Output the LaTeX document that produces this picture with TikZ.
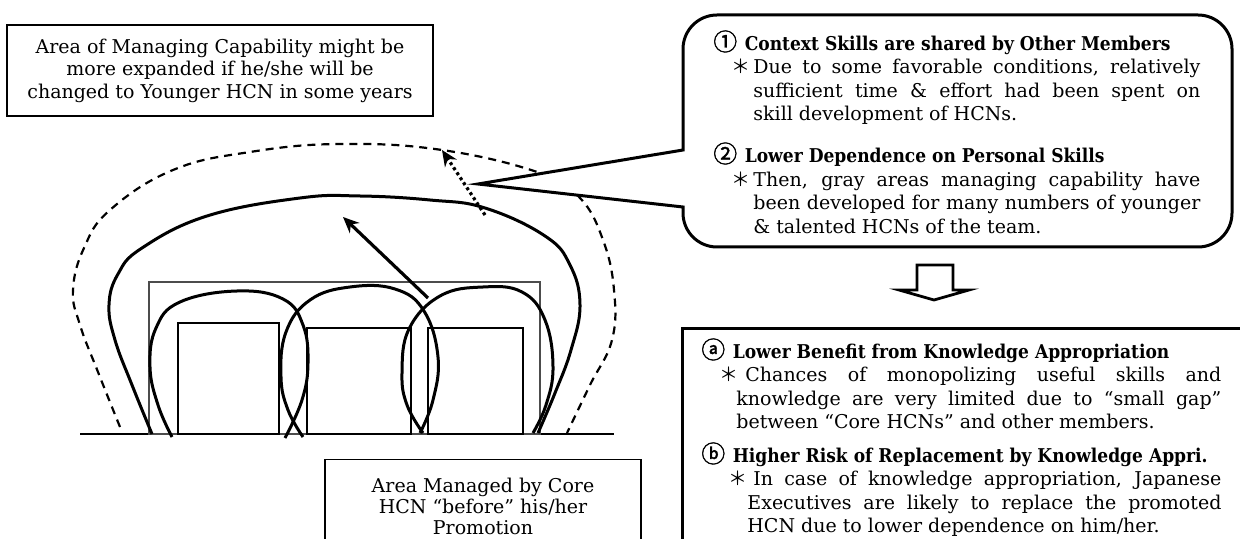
\documentclass[tikz,border=0pt]{standalone}
\usepackage{fontspec}
\setmainfont{DejaVu Serif}
\newfontfamily\symfont{Noto Sans CJK JP}
\newfontfamily\circfont{Noto Sans CJK JP}[Scale=1.25, FakeBold=1.5]
\newfontfamily\headfont{DejaVu Serif}[FakeStretch=0.9]
\usetikzlibrary{arrows.meta}

\newcommand{\circnum}[1]{{\circfont #1}}
\newcommand{\notehead}[2]{\noindent{\circnum{#1}\hspace{0.4em}\headfont\bfseries #2}\par}
\newcommand{\notebody}[3]{{\leftskip=#1\noindent\hspace*{-#2}\makebox[#2][l]{\symfont ＊}#3\par}}

\begin{document}
\begin{tikzpicture}[x=0.5pt, y=-0.5pt,
    solidloop/.style={line width=1.5pt, line join=round},
    dashloop/.style={line width=1.1pt, dash pattern=on 4pt off 3pt},
    unitbox/.style={line width=1.1pt},
    teambox/.style={line width=0.8pt, draw=black!70},
    liftarrow/.style={line width=1.6pt, -{Stealth[length=8pt, width=7pt]}},
    reacharrow/.style={line width=1.6pt, dash pattern=on 1.5pt off 1.5pt, -{Stealth[length=8pt, width=7pt]}},
    infobox/.style={draw, line width=0.7pt, align=center, inner sep=0pt},
    callout/.style={draw, fill=white, line width=1.5pt, line join=miter},
    notetext/.style={anchor=north west, inner sep=0pt, align=justify, font=\fontsize{9.5}{11.75}\selectfont},
    gobox/.style={draw, line width=1.5pt},
    downarrow/.style={draw, fill=white, line width=1.4pt, line join=miter}
]
\path[fill=white, use as bounding box] (0,0) rectangle (1240,539);

% ground line and areas
\coordinate (ground west) at (80,434);
\coordinate (ground east) at (614,434);
\draw[line width=0.8pt] (ground west) -- (ground east);
\draw[teambox] (149,434) rectangle (540,282);
\draw[unitbox] (178,434) rectangle (279,323);
\draw[unitbox] (307,434) rectangle (411,328);
\draw[unitbox] (428,434) rectangle (523,328);

% managing capability of each member
\draw[solidloop] plot[smooth, tension=0.7] coordinates {(172,437) (158,405) (150,367) (156,328) (180,302) (237,291) (283,299) (303,325) (308,363) (302,400) (285,438)};
\draw[solidloop] plot[smooth, tension=0.7] coordinates {(303,437) (288,410) (281,377) (286,332) (310,300) (350,287) (395,289) (424,311) (438,357) (433,400) (420,433)};
\draw[solidloop] plot[smooth, tension=0.7] coordinates {(423,433) (407,405) (402,373) (409,329) (440,296) (483,287) (522,292) (545,320) (553,367) (546,405) (533,433)};

% area after promotion and expected area
\draw[solidloop] plot[smooth, tension=0.7] coordinates {(152,434) (132,385) (115,340) (109,305) (118,274) (142,248) (207,216) (300,198) (360,196) (430,200) (485,208) (545,236) (570,265) (580,305) (571,350) (555,393) (538,433)};
\draw[dashloop] plot[smooth, tension=0.7] coordinates {(120,427) (98,372) (80,325) (73,290) (84,248) (110,210) (173,170) (250,152) (340,144) (442,150) (540,173) (580,198) (603,240) (614,290) (612,340) (590,385) (567,433)};

\coordinate (lift start) at (428,298);
\coordinate (lift end) at (343,217);
\coordinate (reach start) at (485,215);
\coordinate (reach end) at (442,150);
\draw[liftarrow] (lift start) -- (lift end);
\draw[reacharrow] (reach start) -- (reach end);

% speech bubble
\draw[callout] (683,207) -- (478,184) -- (683,150) [rounded corners=17pt] -- (683,15) -- (1232,15) -- (1232,247) -- (683,247) [sharp corners] -- cycle;
\node[notetext, text width=243.5pt] (shared) at (713,30) {%
  \notehead{①}{Context Skills are shared by Other Members}
  \notebody{20pt}{11pt}{Due to some favorable conditions, relatively\linebreak sufficient time \& effort had been spent on\linebreak skill development of HCNs.}
  \vspace{7.75pt}
  \notehead{②}{Lower Dependence on Personal Skills}
  \notebody{20pt}{11pt}{Then, gray areas managing capability have\linebreak been developed for many numbers of younger\linebreak \& talented HCNs of the team.}};

% down arrow
\draw[downarrow] (917,265) -- (953,265) -- (953,290) -- (969,290) -- (934,300) -- (899,290) -- (917,290) -- cycle;

% consequences
\draw[gobox] (682,328) rectangle (1270,570);
\node[notetext, text width=260pt] (result) at (701,338) {%
  \notehead{ⓐ}{Lower Benefit from Knowledge Appropriation}
  \notebody{17.5pt}{8.5pt}{\hspace{4.5pt}Chances of monopolizing useful skills and\linebreak knowledge are very limited due to “small gap”\linebreak between “Core HCNs” and other members.}
  \vspace{5pt}
  \notehead{ⓑ}{Higher Risk of Replacement by Knowledge Appri.}
  \notebody{23pt}{9.5pt}{\hspace{3pt}In case of knowledge appropriation, Japanese\linebreak Executives are likely to replace the promoted\linebreak HCN due to lower dependence on him/her.}};

% labels
\node[infobox, minimum width=213pt, minimum height=45.5pt, font=\fontsize{9.5}{11.25}\selectfont] (future) at (220,70.5) {Area of Managing Capability might be\\more expanded if he/she will be\\changed to Younger HCN in some years};
\node[infobox, anchor=north, minimum width=158pt, inner ysep=9pt, font=\fontsize{9.5}{10.5}\selectfont] (before) at (483,459) {Area Managed by Core\\HCN “before” his/her\\Promotion};
\end{tikzpicture}
\end{document}
